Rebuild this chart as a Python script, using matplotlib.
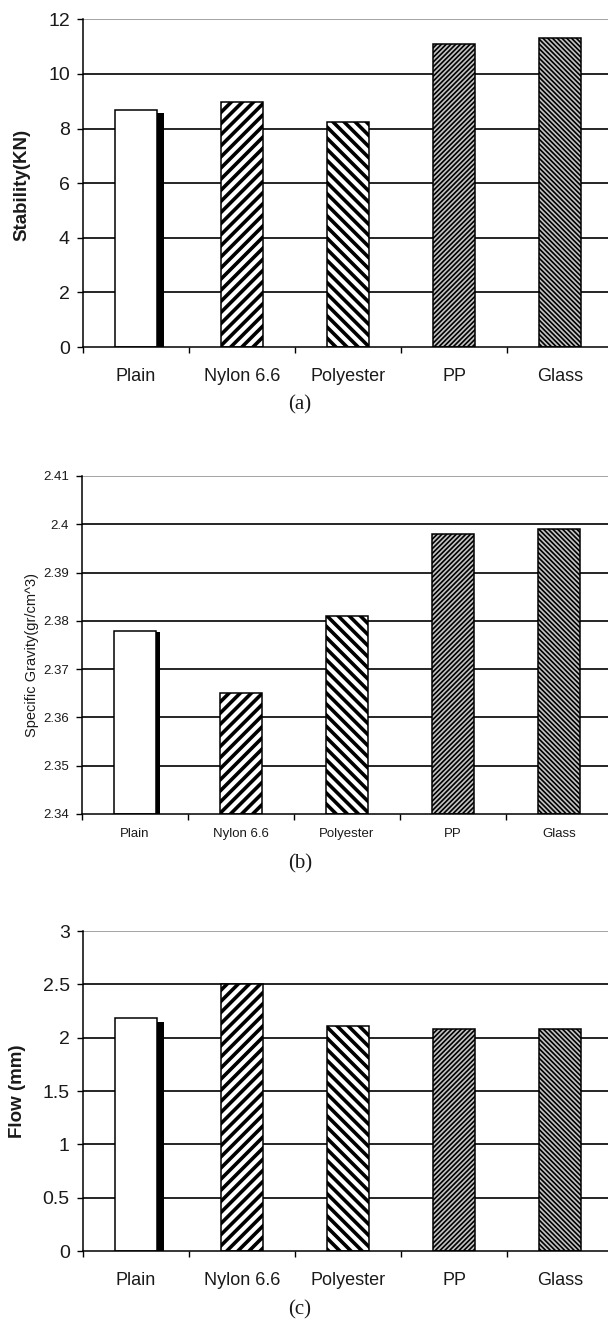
import matplotlib
matplotlib.use("Agg")
import matplotlib.pyplot as plt
import numpy as np

# data
categories = ["Plain", "Nylon 6.6", "Polyester", "PP", "Glass"]
stability = [8.68, 8.97, 8.23, 11.1, 11.3]
specific_gravity = [2.378, 2.365, 2.381, 2.398, 2.399]
flow = [2.18, 2.50, 2.11, 2.08, 2.08]

stab_ticks = [0, 2, 4, 6, 8, 10, 12]
stab_labels = ["0", "2", "4", "6", "8", "10", "12"]
sg_ticks = [2.34, 2.35, 2.36, 2.37, 2.38, 2.39, 2.40, 2.41]
sg_labels = ["2.34", "2.35", "2.36", "2.37", "2.38", "2.39", "2.4", "2.41"]
flow_ticks = [0, 0.5, 1, 1.5, 2, 2.5, 3]
flow_labels = ["0", "0.5", "1", "1.5", "2", "2.5", "3"]

# bar styles (one per category)
hatches = [None, "///", "\\\\\\", "/" * 7, "\\" * 7]
faces = ["white", "white", "white", "#c4c4c4", "#c4c4c4"]
hatch_lw = [1.0, 2.6, 2.6, 1.2, 1.2]

TXT = "#1a1a1a"
W, H = 608, 1329
fig = plt.figure(figsize=(W / 100, H / 100), dpi=100)
plt.rcParams["font.family"] = ["Liberation Sans", "DejaVu Sans"]


def px_box(left, top, bottom, width=530):
    return [left / W, 1 - bottom / H, width / W, (bottom - top) / H]


def draw_panel(ax, values, ticks, labels, tick_fs, cat_fs, cat_pad, shadow_drop, shadow_w):
    x = np.arange(len(categories))
    ax.set_xlim(-0.5, len(categories) - 0.5)
    ax.set_ylim(ticks[0], ticks[-1])

    for t in ticks[1:-1]:
        ax.axhline(t, color="black", lw=1.2, zorder=1)
    ax.axhline(ticks[-1], color="#8a8a8a", lw=1.1, zorder=1)

    bw = 0.405
    for i, v in enumerate(values):
        # the patch picks up hatch.linewidth when it is created
        plt.rcParams["hatch.linewidth"] = hatch_lw[i]
        bars = ax.bar(x[i], v - ticks[0], bottom=ticks[0], width=bw,
                      color=faces[i], edgecolor="black", linewidth=1.1,
                      hatch=hatches[i], zorder=3)
        for p in bars:
            if hasattr(p, "set_hatch_linewidth"):
                p.set_hatch_linewidth(hatch_lw[i])

    # dark shadow on the right of the plain bar
    span = ticks[-1] - ticks[0]
    ax.bar(x[0] + bw / 2 + shadow_w / 2, values[0] - ticks[0] - shadow_drop * span,
           bottom=ticks[0], width=shadow_w, color="black", linewidth=0, zorder=2)

    ax.set_yticks(ticks)
    ax.set_yticklabels(labels, fontsize=tick_fs, color=TXT)
    ax.tick_params(axis="y", length=4.5, width=1, direction="out", pad=5)

    ax.set_xticks(x)
    ax.set_xticklabels(categories, fontsize=cat_fs, color=TXT)
    ax.tick_params(axis="x", which="major", length=0, pad=cat_pad)
    ax.set_xticks(np.arange(-0.5, len(categories)), minor=True)
    ax.tick_params(axis="x", which="minor", length=4.5, width=1, direction="out")

    for s in ("top", "right"):
        ax.spines[s].set_visible(False)
    for s in ("left", "bottom"):
        ax.spines[s].set_linewidth(1.1)
        ax.spines[s].set_zorder(4)


ax_a = fig.add_axes(px_box(83, 19.3, 347))
draw_panel(ax_a, stability, stab_ticks, stab_labels, 14, 13, 15, 0.009, 0.057)
fig.text(22 / W, 1 - 185 / H, "Stability(KN)", rotation=90, ha="center", va="center",
         fontsize=13.5, fontweight="bold", color=TXT)
fig.text(300 / W, 1 - 405 / H, "(a)", ha="center", va="center", fontsize=15,
         family="Liberation Serif", color=TXT)

ax_b = fig.add_axes(px_box(82, 476, 814))
draw_panel(ax_b, specific_gravity, sg_ticks, sg_labels, 9.5, 9.5, 10, 0.004, 0.035)
fig.text(32 / W, 1 - 655 / H, "Specific Gravity(gr/cm^3)", rotation=90, ha="center",
         va="center", fontsize=10.5, color=TXT)
fig.text(300 / W, 1 - 864 / H, "(b)", ha="center", va="center", fontsize=15,
         family="Liberation Serif", color=TXT)

ax_c = fig.add_axes(px_box(83, 931, 1251))
draw_panel(ax_c, flow, flow_ticks, flow_labels, 14, 13, 15, 0.011, 0.057)
fig.text(18 / W, 1 - 1091 / H, "Flow (mm)", rotation=90, ha="center", va="center",
         fontsize=13.5, fontweight="bold", color=TXT)
fig.text(300 / W, 1 - 1310 / H, "(c)", ha="center", va="center", fontsize=15,
         family="Liberation Serif", color=TXT)

fig.savefig("out.png", dpi=100)
